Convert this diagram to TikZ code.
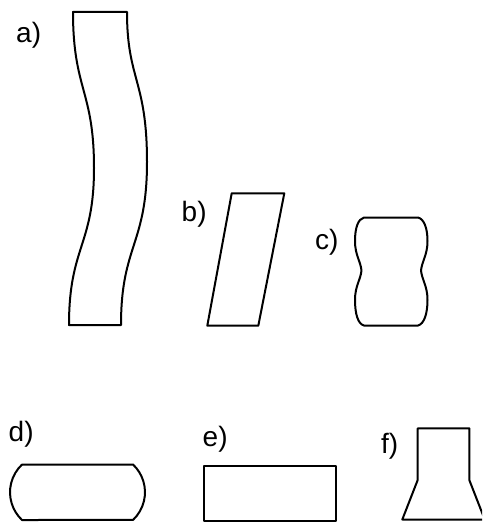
\documentclass[tikz,border=0pt]{standalone}
\usepackage{fontspec}
\setmainfont{Liberation Sans}
\begin{document}
\begin{tikzpicture}[x=1pt,y=1pt,
  shapeline/.style={draw=black,line width=2pt,line join=round},
  lbl/.style={anchor=base west,inner sep=0pt,text=black,font=\fontsize{28}{32}\selectfont}]
\begin{scope}[yscale=-1]
\useasboundingbox (0,0) rectangle (482,527);
\clip (0,0) rectangle (482,527);
% labels
\node[lbl] (la) at (16,43) {a)};
\node[lbl] (lb) at (181.5,221.5) {b)};
\node[lbl] (lc) at (315,249) {c)};
\node[lbl] (ld) at (8.5,441.5) {d)};
\node[lbl] (le) at (202.5,446) {e)};
\node[lbl] (lf) at (381,453) {f)};
% a) bent column
\draw[shapeline] (73,12) -- (127,12)
  .. controls (127,80) and (147,80) .. (147,162)
  .. controls (147,245) and (121,245) .. (121,325)
  -- (69,325)
  .. controls (69,246) and (94,246) .. (94,168)
  .. controls (94,90) and (73,90) .. cycle;
% b) parallelogram
\draw[shapeline] (231.7,193.3) -- (284.3,193.3) -- (258.3,325.7) -- (207.3,325.7) -- cycle;
% c) waisted block
\draw[shapeline] (364,217.5) -- (418,217.5)
  .. controls (424,219) and (427.5,228) .. (427.5,241)
  .. controls (427.5,255) and (422,261) .. (421,270.5)
  .. controls (422,280) and (427.5,286) .. (427.5,300)
  .. controls (427.5,314) and (424,324) .. (418,325.5)
  -- (364,325.5)
  .. controls (358,324) and (355,314) .. (355,300)
  .. controls (355,286) and (360.5,280) .. (361.5,270.5)
  .. controls (360.5,261) and (355,255) .. (355,241)
  .. controls (355,228) and (358,219) .. cycle;
% d) rounded ends
\draw[shapeline] (22,464.5) -- (133,464.5)
  arc[start angle=-46.7,end angle=46.7,radius=38.1]
  -- (22,520)
  arc[start angle=133.3,end angle=226.7,radius=38.1] -- cycle;
% e) rectangle
\draw[shapeline] (204,466) rectangle (336,520.5);
% f) flared block
\draw[shapeline] (417.7,428.3) -- (469.3,428.3) -- (469.3,480) -- (484.7,519.5)
  -- (402.3,519.5) -- (417.7,480) -- cycle;
\end{scope}
\end{tikzpicture}
\end{document}
